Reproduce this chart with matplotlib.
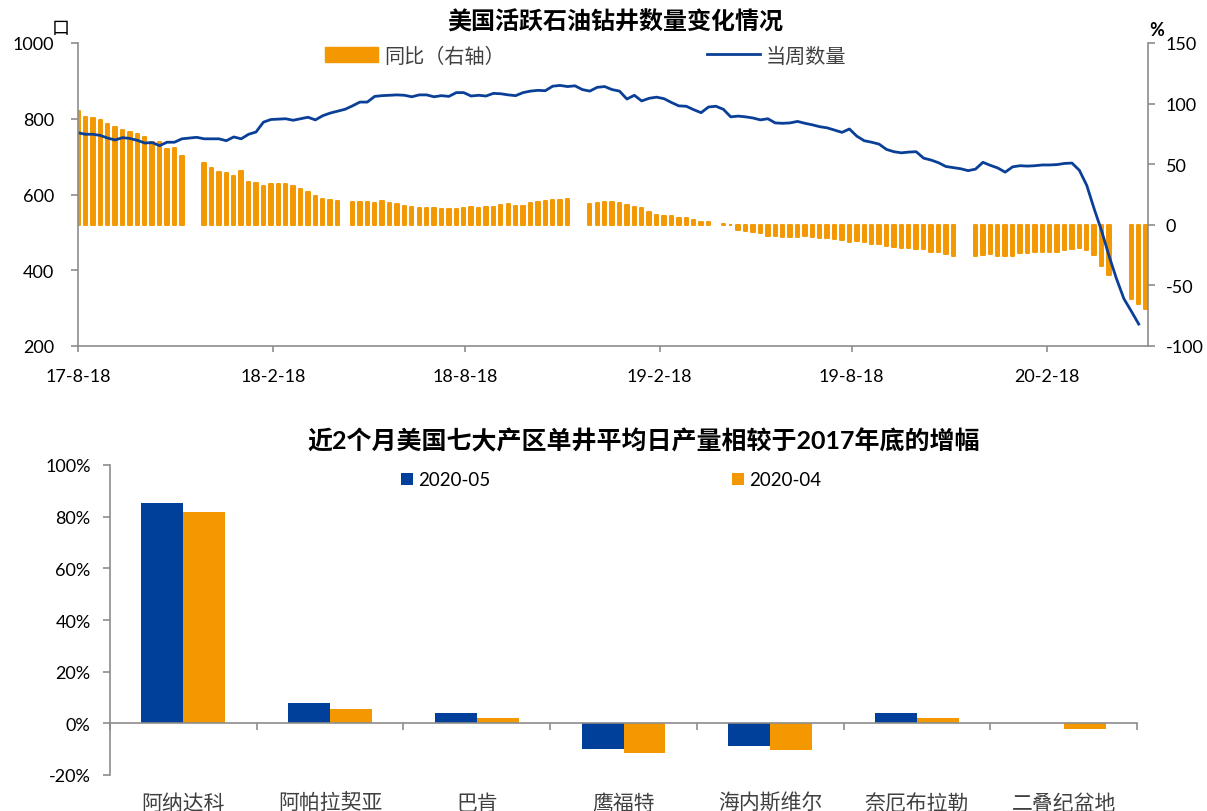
import numpy as np
import pandas as pd
import matplotlib
matplotlib.use('Agg')
import matplotlib.pyplot as plt
from matplotlib.patches import Patch
from matplotlib.lines import Line2D
from matplotlib.ticker import FuncFormatter

plt.rcParams['font.family'] = ['Lato', 'Noto Sans CJK SC', 'DejaVu Sans']
plt.rcParams['axes.unicode_minus'] = False

ORANGE = '#F39800'
BLUE = '#0A3F97'
BAR_BLUE = '#00409A'
GREY = '#8C8C8C'
TXT = '#404040'

# ---- top chart: weekly US oil rig count and its YoY change ----
START = '2017-08-18'
rig_count = [
    763, 759, 759, 756, 749, 744, 750, 748, 743, 736,
    737, 729, 738, 738, 747, 749, 751, 747, 747, 747,
    742, 752, 747, 759, 765, 791, 798, 799, 800, 796,
    800, 804, 797, 808, 815, 820, 825, 834, 844, 844,
    859, 861, 862, 863, 862, 858, 863, 863, 858, 861,
    859, 869, 869, 860, 862, 860, 867, 866, 863, 861,
    869, 873, 875, 874, 886, 888, 885, 887, 877, 873,
    883, 885, 877, 873, 852, 862, 847, 854, 857, 853,
    843, 834, 833, 824, 816, 831, 833, 825, 805, 807,
    805, 802, 797, 800, 789, 788, 789, 793, 788, 784,
    779, 776, 770, 764, 773, 754, 742, 738, 733, 719,
    713, 710, 712, 713, 696, 691, 684, 674, 671, 668,
    663, 667, 685, 677, 670, 659, 673, 676, 675, 676,
    678, 678, 679, 682, 683, 664, 624, 562, 504, 438,
    378, 325, 292, 258,
]
# YoY in %, None = week without a value
rig_yoy = [
    94.2, 88.7, 87.9, 86.7, 83.2, 80.4, 78.5, 76.8, 75.2, 72.2,
    68.1, 68.1, 62.5, 63.6, 57.0, None, None, 51.2, 47.1, 43.3,
    42.7, 40.5, 44.6, 35.6, 34.5, 31.8, 33.9, 33.9, 33.5, 32.3,
    29.5, 27.3, 23.5, 21.3, 20.7, 19.9, None, 18.6, 19.1, 18.9,
    17.7, 19.9, 18.0, 16.9, 15.8, 14.4, 14.2, 13.6, 13.6, 12.8,
    13.0, 13.0, 13.9, 14.4, 14.2, 14.4, 14.5, 16.3, 17.2, 15.8,
    15.8, 17.7, 19.1, 19.6, 20.7, 20.7, 21.3, None, None, 17.2,
    17.7, 18.6, 18.6, 17.9, 16.3, 14.4, 14.0, 10.9, 8.4, 7.6,
    7.2, 5.9, 5.5, 4.3, 2.7, 2.7, None, 1.0, -0.3, -4.0,
    -5.4, -6.2, -6.8, -9.0, -9.0, -10.3, -10.3, -10.3, -9.5, -10.3,
    -11.1, -11.1, -11.7, -12.5, -13.9, -13.6, -13.9, -16.1, -16.1, -17.2,
    -18.6, -19.1, -19.1, -19.7, -20.0, -22.2, -22.7, -24.1, -26.0, None,
    None, -26.0, -24.9, -24.1, -25.5, -25.5, -26.0, -23.3, -23.3, -22.2,
    -22.2, -22.2, -22.2, -20.5, -20.0, -19.4, -20.5, -24.9, -33.7, -41.2,
    None, None, -61.2, -65.3, -69.5,
]
xtick_dates = ['2017-08-18', '2018-02-18', '2018-08-18', '2019-02-18', '2019-08-18', '2020-02-18']
xtick_labels = ['17-8-18', '18-2-18', '18-8-18', '19-2-18', '19-8-18', '20-2-18']

# ---- bottom chart: per-well output change vs end-2017 (%) ----
basins = ['阿纳达科', '阿帕拉契亚', '巴肯', '鹰福特', '海内斯维尔', '奈厄布拉勒', '二叠纪盆地']
chg_2020_05 = [85.4, 7.7, 4.1, -9.8, -8.8, 4.1, 0.0]
chg_2020_04 = [81.7, 5.7, 2.1, -11.3, -10.4, 2.2, -2.1]

W, H = 1207, 812
fig = plt.figure(figsize=(W / 100, H / 100), dpi=100)

# top panel
ax = fig.add_axes([78 / W, 1 - 347 / H, (1147.7 - 78) / W, 303 / H])
ax2 = ax.twinx()
ax.set_zorder(ax2.get_zorder() + 1)
ax.patch.set_visible(False)

weeks = pd.date_range(START, periods=len(rig_yoy), freq='7D')
yoy = pd.Series(rig_yoy, index=weeks, dtype=float).dropna()
ax2.bar(yoy.index, yoy.values, width=3.2, color=ORANGE, edgecolor=ORANGE,
        linewidth=1.4, joinstyle='round')
ax.plot(weeks[:len(rig_count)], rig_count, color=BLUE, lw=2)

ax.set_ylim(200, 1000)
ax2.set_ylim(-100, 150)
ax.set_xlim(weeks[0], weeks[-1] + pd.Timedelta(days=1.5))
ax.set_yticks([200, 400, 600, 800, 1000])
ax2.set_yticks([-100, -50, 0, 50, 100, 150])
ax.set_xticks(pd.to_datetime(xtick_dates))
ax.set_xticklabels(xtick_labels)

for a in (ax, ax2):
    a.spines['top'].set_visible(False)
    for s in a.spines.values():
        s.set_color(GREY)
        s.set_linewidth(1.2)
ax.spines['right'].set_visible(False)
ax2.spines['left'].set_visible(False)
ax2.spines['bottom'].set_visible(False)

ax.tick_params(axis='y', length=5, width=1.2, color=GREY, pad=12, labelsize=13)
ax.tick_params(axis='x', length=4, width=1.2, color=GREY, pad=12, labelsize=13)
ax2.tick_params(axis='y', length=5, width=1.2, color=GREY, pad=8, labelsize=13)

handles = [Patch(facecolor=ORANGE, edgecolor=ORANGE), Line2D([], [], color=BLUE, lw=2)]
ax.legend(handles, ['同比（右轴）', '当周数量'], ncol=2, loc='center left',
          bbox_to_anchor=(325 / W, 1 - 56 / H), bbox_transform=fig.transFigure,
          frameon=False, fontsize=14.5, handlelength=2.65, handleheight=0.75,
          handletextpad=0.3, columnspacing=10.0, borderpad=0, borderaxespad=0,
          labelcolor=TXT)

fig.text(615 / W, 1 - 22 / H, '美国活跃石油钻井数量变化情况', ha='center', va='center',
         fontsize=17.3, fontweight='bold')
fig.text(61 / W, 1 - 29 / H, '口', ha='center', va='center', fontsize=13)
fig.text(1157 / W, 1 - 31 / H, '%', ha='center', va='center', fontsize=13, fontweight='bold')

# bottom panel
bx = fig.add_axes([110 / W, 1 - 776 / H, 1027 / W, 310 / H])
x = np.arange(len(basins))
w = 0.286
bx.bar(x - w / 2, chg_2020_05, w, color=BAR_BLUE, label='2020-05')
bx.bar(x + w / 2, chg_2020_04, w, color=ORANGE, label='2020-04')
bx.set_xlim(-0.5, len(basins) - 0.5)
bx.set_ylim(-20, 100)
bx.set_yticks(range(-20, 101, 20))
bx.yaxis.set_major_formatter(FuncFormatter(lambda v, p: f'{v:.0f}%'))
bx.set_xticks(np.arange(-0.5, len(basins), 1))
bx.set_xticklabels([])
bx.spines['bottom'].set_position(('data', 0))
bx.spines['top'].set_visible(False)
bx.spines['right'].set_visible(False)
for s in ('left', 'bottom'):
    bx.spines[s].set_color(GREY)
    bx.spines[s].set_linewidth(1.2)
bx.tick_params(axis='y', length=5, width=1.2, color=GREY, pad=9, labelsize=13)
bx.tick_params(axis='x', length=5, width=1.2, color=GREY)

for i, name in enumerate(basins):
    bx.annotate(name, xy=(i, 0), xycoords=('data', 'axes fraction'),
                xytext=(0, -13), textcoords='offset points', ha='center', va='top',
                fontsize=15, color=TXT)

bx.legend(ncol=2, loc='center left', bbox_to_anchor=(401 / W, 1 - 481 / H),
          bbox_transform=fig.transFigure, frameon=False, fontsize=13.5,
          handlelength=0.64, handleheight=0.64, handletextpad=0.27,
          columnspacing=12.9, borderpad=0, borderaxespad=0)

fig.text(644 / W, 1 - 441 / H, '近2个月美国七大产区单井平均日产量相较于2017年底的增幅',
         ha='center', va='center', fontsize=18, fontweight='bold')

fig.savefig('out.png', dpi=100)
